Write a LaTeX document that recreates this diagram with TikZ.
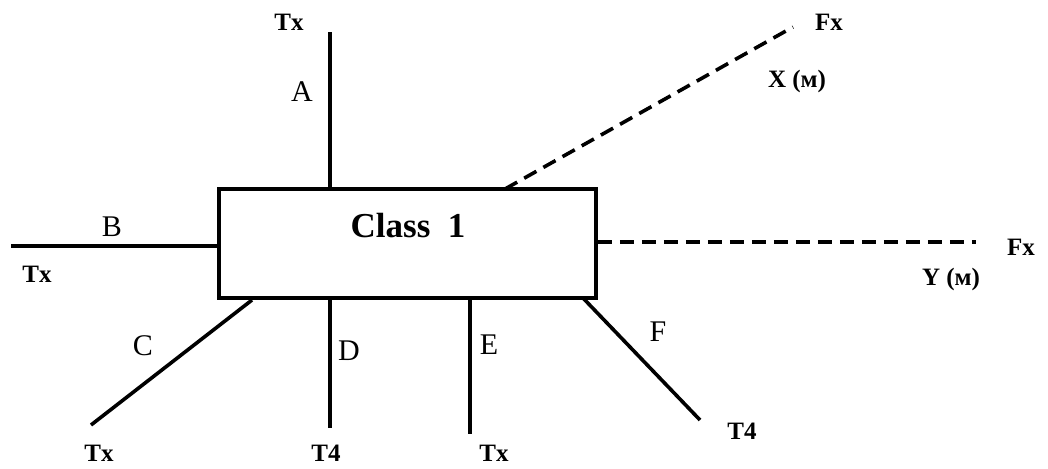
\documentclass[tikz,border=0pt]{standalone}
\usepackage{fontspec}
\setmainfont{Liberation Serif}
\begin{document}
\begin{tikzpicture}[x=1pt,y=-1pt,
  wire/.style={line width=3.6pt},
  dwire/.style={line width=3.6pt,dash pattern=on 14pt off 8pt},
  term/.style={font=\fontsize{25}{29}\selectfont\bfseries,inner sep=0pt},
  lett/.style={font=\fontsize{30}{34}\selectfont,inner sep=0pt},
  box/.style={draw,line width=3.6pt,minimum width=377pt,minimum height=109pt,inner sep=0pt}]
\useasboundingbox (0,0) rectangle (1048,468);
\node[box] (box) at (407.5,243.5) {};
\node[font=\fontsize{35}{40}\selectfont\bfseries,inner sep=0pt] (cls) at (408,226) {Class\ \ 1};
% end points
\coordinate (a) at (330,32);
\coordinate (b) at (11,246);
\coordinate (c) at (91,425);
\coordinate (c0) at (252,300);
\coordinate (d) at (330,428);
\coordinate (e) at (470,434);
\coordinate (f) at (700,420);
\coordinate (f0) at (583,298);
\coordinate (x) at (793,27);
\coordinate (x0) at (505,189);
\coordinate (y) at (976,242);
% connectors
\draw[wire] (box.north -| a) -- (a);
\draw[wire] (box.west |- b) -- (b);
\draw[wire] (c0) -- (c);
\draw[wire] (box.south -| d) -- (d);
\draw[wire] (box.south -| e) -- (e);
\draw[wire] (f0) -- (f);
\draw[dwire] (x0) -- (x);
\draw[dwire] (box.east |- y) -- (y);
% labels
\node[term] (ta) at (289,22) {Tx};
\node[term] (tb) at (37,274) {Tx};
\node[term] (tc) at (99,453) {Tx};
\node[term] (td) at (326,453) {T4};
\node[term] (te) at (494,453) {Tx};
\node[term] (tf) at (742,431) {T4};
\node[term] (fx1) at (829,22) {Fx};
\node[term] (xm) at (797,81) {X (м)};
\node[term] (fx2) at (1021,247) {Fx};
\node[term] (ym) at (951,279) {Y (м)};
\node[lett] (la) at (302,92) {A};
\node[lett] (lb) at (112,227) {B};
\node[lett] (lc) at (143,346) {C};
\node[lett] (ld) at (349,351) {D};
\node[lett] (le) at (489,345) {E};
\node[lett] (lf) at (658,332) {F};
\end{tikzpicture}
\end{document}
